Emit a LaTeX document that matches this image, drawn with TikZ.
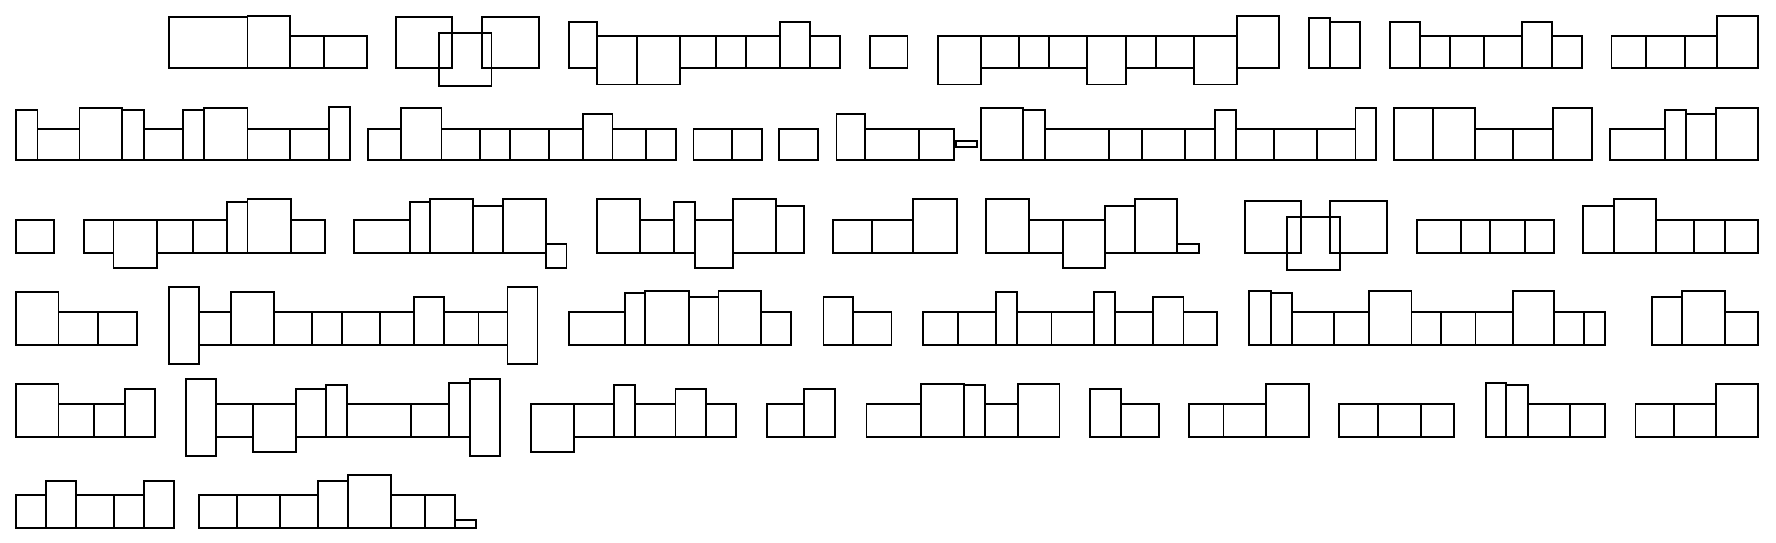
\documentclass[tikz,border=0pt]{standalone}
\begin{document}
\begin{tikzpicture}[x=0.5pt,y=-0.5pt]
\tikzset{gbox/.style={draw=black,line width=0.9pt,line join=miter}}
\useasboundingbox (0,0) rectangle (1776,542);
% Row 1
\foreach \a/\b/\t/\d in {
168.6/247.4/16.7/68.3, 247.4/290/15.7/68.3, 290/324.1/36/68.3, 324.1/366.6/36/68.3,
396.1/452.3/16.7/68.3, 438.7/491.5/32.7/86, 481.8/539.2/16.7/68.3,
569.2/597/21.7/68.3, 597/637.3/36/84.5, 637.3/680/36/84.5, 680/715.7/36/68.3, 715.7/745.7/36/68.3, 745.7/779.8/36/68.3, 779.8/809.9/21.7/68.3, 809.9/840/36/68.3,
870/907.4/36/68.3,
938.3/981.1/36/84.5, 981.1/1018.9/36/68.3, 1018.9/1049.1/36/68.3, 1049.1/1086.9/36/68.3, 1086.9/1125.7/36/84.5, 1125.7/1156/36/68.3, 1156/1193.7/36/68.3, 1193.7/1236.6/36/84.5, 1236.6/1278.9/15.7/68.3,
1308.6/1330.3/17.7/68.3, 1330.3/1360/21.7/68.3,
1389.7/1420/21.7/68.3, 1420/1449.7/36/68.3, 1449.7/1484/36/68.3, 1484/1521.7/36/68.3, 1521.7/1552/21.7/68.3, 1552/1581.7/36/68.3,
1611.4/1645.7/36/68.3, 1645.7/1684.6/36/68.3, 1684.6/1717.1/36/68.3, 1717.1/1758.3/15.7/68.3}
  \draw[gbox] (\a,\t) rectangle (\b,\d);
% Row 2
\foreach \a/\b/\t/\d in {
15.9/37.5/110/160.3, 37.5/79.5/129/160.3, 79.5/122/108/160.3, 122/143.6/110/160.3, 143.6/183.3/129/160.3, 183.3/204.3/110/160.3, 204.3/247.4/108/160.3, 247.4/290/129/160.3, 290/328.6/129/160.3, 328.6/349.6/107.3/160.3,
367.8/400.7/129/160.3, 400.7/441.5/108/160.3, 441.5/480.1/129/160.3, 480.1/510.2/129/160.3, 510.2/548.8/129/160.3, 548.8/582.9/129/160.3, 582.9/612.4/113.7/160.3, 612.4/645.9/129/160.3, 645.9/675.9/129/160.3,
693.5/732.1/129/160.3, 732.1/761.6/129/160.3,
779.2/817.8/129/160.3,
836.5/865/113.7/160.3, 865/918.9/129/160.3, 918.9/954.3/129/160.3, 956/976.6/141.3/147,
980.6/1022.9/108/160.3, 1022.9/1044.6/110/160.3, 1044.6/1108.6/129/160.3, 1108.6/1142.3/129/160.3, 1142.3/1184.6/129/160.3, 1184.6/1214.9/129/160.3, 1214.9/1236/110/160.3, 1236/1274.3/129/160.3, 1274.3/1317.1/129/160.3, 1317.1/1355.4/129/160.3, 1355.4/1376/108/160.3,
1394.3/1432.6/108/160.3, 1432.6/1474.9/108/160.3, 1474.9/1513.1/129/160.3, 1513.1/1553.1/129/160.3, 1553.1/1592/108/160.3,
1610.3/1664.6/129/160.3, 1664.6/1686.3/110/160.3, 1686.3/1716/113.7/160.3, 1716/1758.3/108/160.3}
  \draw[gbox] (\a,\t) rectangle (\b,\d);
% Row 3
\foreach \a/\b/\t/\d in {
15.9/54.2/219.7/253,
84/113.5/219.7/253, 113.5/156.6/219.7/268, 156.6/193/219.7/253, 193/227/219.7/253, 227/247.4/202/253, 247.4/290.6/199.3/253, 290.6/324.6/219.7/253,
354.1/409.8/219.7/253, 409.8/430.2/202/253, 430.2/473.3/199.3/253, 473.3/502.8/206/253, 502.8/546/199.3/253, 546/566.4/244.3/268,
597/640.2/199.3/253, 640.2/674.2/219.7/253, 674.2/694.7/202/253, 694.7/733.3/219.7/268, 733.3/775.8/199.3/253, 775.8/803.6/206/253,
833.1/871.7/219.7/253, 871.7/913.1/219.7/253, 913.1/956.6/199.3/253,
986.3/1028.6/199.3/253, 1028.6/1062.9/219.7/253, 1062.9/1105.1/219.7/268, 1105.1/1134.9/206/253, 1134.9/1177.1/199.3/253, 1177.1/1198.9/244.3/253,
1244.6/1301.1/201/253, 1286.9/1340/216.7/269.7, 1330.3/1386.9/201/253,
1416.6/1460.6/219.7/253, 1460.6/1490.3/219.7/253, 1490.3/1524.6/219.7/253, 1524.6/1554.3/219.7/253,
1582.9/1613.7/206/253, 1613.7/1656/199.3/253, 1656/1693.7/219.7/253, 1693.7/1724.6/219.7/253, 1724.6/1758.3/219.7/253}
  \draw[gbox] (\a,\t) rectangle (\b,\d);
% Row 4
\foreach \a/\b/\t/\d in {
15.9/58.5/291.7/345, 58.5/97.6/311.7/345, 97.6/137.3/311.7/345,
168.6/198.6/287/364.3, 198.6/231/311.7/345, 231/273.6/291.7/345, 273.6/311.6/311.7/345, 311.6/341.7/311.7/345, 341.7/379.7/311.7/345, 379.7/413.7/311.7/345, 413.7/443.8/297.3/345, 443.8/478.4/311.7/345, 478.4/507.4/311.7/345, 507.4/537.5/287/364.3,
569.2/624.9/311.7/345, 624.9/645.3/293.3/345, 645.3/689/291.3/345, 689/718.5/297.3/345, 718.5/761.1/291.3/345, 761.1/791.1/311.7/345,
823.5/853/297.3/345, 853/891.4/311.7/345,
922.9/957.7/311.7/345, 957.7/996/311.7/345, 996/1017.1/291.7/345, 1017.1/1051.4/311.7/345, 1051.4/1094.3/311.7/345, 1094.3/1114.9/291.7/345, 1114.9/1153.1/311.7/345, 1153.1/1183.4/297.3/345, 1183.4/1217.1/311.7/345,
1249.1/1270.9/291.3/345, 1270.9/1292/293.3/345, 1292/1334.3/311.7/345, 1334.3/1368.6/311.7/345, 1368.6/1411.4/291.3/345, 1411.4/1441.1/311.7/345, 1441.1/1475.4/311.7/345, 1475.4/1513.1/311.7/345, 1513.1/1554.3/291.3/345, 1554.3/1584/311.7/345, 1584/1605.1/311.7/345,
1652/1682.3/297.3/345, 1682.3/1724.6/291.3/345, 1724.6/1758.3/311.7/345}
  \draw[gbox] (\a,\t) rectangle (\b,\d);
% Row 5
\foreach \a/\b/\t/\d in {
15.9/58.5/383.7/437, 58.5/94.2/403.7/437, 94.2/124.9/403.7/437, 124.9/154.9/389.3/437,
185.6/215.7/378.7/456, 215.7/253.1/403.7/437, 253.1/295.7/403.7/452, 295.7/325.8/389.3/437, 325.8/347.3/385.3/437, 347.3/410.9/403.7/437, 410.9/448.9/403.7/437, 448.9/469.9/383/437, 469.9/500/378.7/456,
531.2/574.3/403.7/452, 574.3/614.1/403.7/437, 614.1/635.1/385.3/437, 635.1/675.4/403.7/437, 675.4/706/389.3/437, 706/736.1/403.7/437,
766.7/804.2/403.7/437, 804.2/834.8/389.3/437,
866.5/920.6/403.7/437, 920.6/964/383.7/437, 964/985.1/385.3/437, 985.1/1018/403.7/437, 1018/1059.4/383.7/437,
1090.3/1120.6/389.3/437, 1120.6/1158.9/403.7/437,
1188.6/1223.4/403.7/437, 1223.4/1266.3/403.7/437, 1266.3/1308.6/383.7/437,
1338.9/1377.7/403.7/437, 1377.7/1420.6/403.7/437, 1420.6/1454.3/403.7/437,
1485.7/1506.3/383/437, 1506.3/1528/385.3/437, 1528/1570.3/403.7/437, 1570.3/1604.6/403.7/437,
1635.4/1673.7/403.7/437, 1673.7/1716/403.7/437, 1716/1758.3/383.7/437}
  \draw[gbox] (\a,\t) rectangle (\b,\d);
% Row 6
\foreach \a/\b/\t/\d in {
15.9/45.7/495/528.3, 45.7/76/480.7/528.3, 76/114.3/495/528.3, 114.3/144.3/495/528.3, 144.3/173.7/480.7/528.3,
199/237/495/528.3, 237/280/495/528.3, 280/318.3/495/528.3, 318.3/347.7/480.7/528.3, 347.7/390.7/475/528.3, 390.7/425/495/528.3, 425/454.7/495/528.3, 454.7/476/520/528.3}
  \draw[gbox] (\a,\t) rectangle (\b,\d);
\end{tikzpicture}
\end{document}
